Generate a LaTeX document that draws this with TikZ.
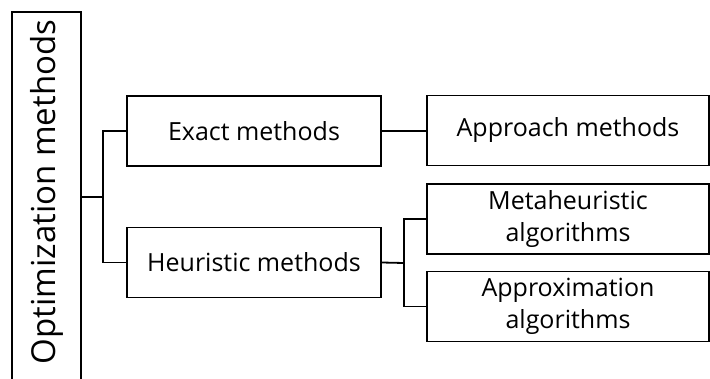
\documentclass[tikz,border=0pt]{standalone}
\usepackage{fontspec}
\setmainfont{Open Sans}

\begin{document}
\begin{tikzpicture}[x=1pt, y=-1pt, line width=1.8pt,
	methodbox/.style={draw, inner sep=0pt, align=center, font=\fontsize{25}{32}\selectfont},
	leftbox/.style={methodbox, minimum width=254pt, minimum height=70pt},
	rightbox/.style={methodbox, minimum width=282pt, minimum height=70pt}]
	\useasboundingbox (0,0) rectangle (710,378);
	\begin{scope}
	\clip (0,0) rectangle (710,378);
	\node[draw, inner sep=0pt, minimum width=69pt, minimum height=390pt] (root) at (46.5,207) {};
	\node[rotate=90, font=\fontsize{33}{38}\selectfont] (roottext) at (46.5,192) {Optimization methods};
	% second level
	\node[leftbox] (exact) at (254,131) {Exact methods};
	\node[leftbox] (heur) at (254,262.5) {Heuristic methods};
	% third level
	\node[rightbox] (approach) at (568,130.5) {Approach methods};
	\node[rightbox] (meta) at (568,219) {Metaheuristic\\algorithms};
	\node[rightbox] (approx) at (568,306.5) {Approximation\\algorithms};
	\end{scope}
	% connectors
	\coordinate (fork1) at (103,197);
	\coordinate (fork2) at (404,263);
	\draw (root.east |- fork1) -- (fork1);
	\draw (exact.west) -| (fork1) |- (heur.west);
	\draw (exact.east) -- (approach.west |- exact.east);
	\draw (heur.east) -- (fork2);
	\draw (meta.west) -| (fork2) |- (approx.west);
\end{tikzpicture}
\end{document}
